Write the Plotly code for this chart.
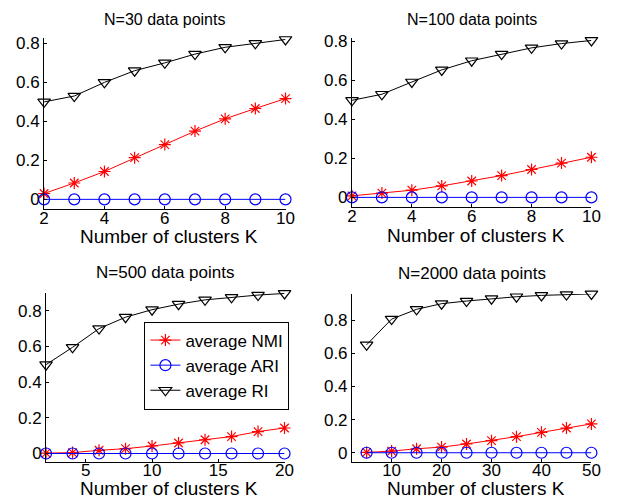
import plotly.graph_objects as go

W, H = 619, 501

# ---- data ----
k30 = [2, 3, 4, 5, 6, 7, 8, 9, 10]
nmi30 = [0.03, 0.084, 0.143, 0.214, 0.281, 0.35, 0.413, 0.466, 0.517]
ari30 = [0, 0, 0, 0, 0, 0, 0, 0, 0]
ri30 = [0.50, 0.53, 0.60, 0.66, 0.70, 0.745, 0.78, 0.80, 0.82]

k100 = [2, 3, 4, 5, 6, 7, 8, 9, 10]
nmi100 = [0.008, 0.022, 0.037, 0.059, 0.084, 0.112, 0.143, 0.176, 0.206]
ari100 = [0, 0, 0, 0, 0, 0, 0, 0, 0]
ri100 = [0.498, 0.529, 0.592, 0.654, 0.701, 0.735, 0.767, 0.789, 0.805]

k500 = [2, 4, 6, 8, 10, 12, 14, 16, 18, 20]
nmi500 = [0.002, 0.005, 0.018, 0.027, 0.042, 0.059, 0.077, 0.095, 0.123, 0.143]
ari500 = [0, 0, 0, 0, 0, 0, 0, 0, 0, 0]
ri500 = [0.498, 0.595, 0.70, 0.764, 0.806, 0.837, 0.861, 0.875, 0.888, 0.897]

k2000 = [5, 10, 15, 20, 25, 30, 35, 40, 45, 50]
nmi2000 = [0.002, 0.01, 0.024, 0.034, 0.053, 0.073, 0.097, 0.123, 0.149, 0.174]
ari2000 = [0, 0, 0, 0, 0, 0, 0, 0, 0, 0]
ri2000 = [0.651, 0.806, 0.865, 0.899, 0.915, 0.929, 0.941, 0.949, 0.954, 0.958]

titles = ["N=30 data points", "N=100 data points", "N=500 data points", "N=2000 data points"]
xlabel = "Number of clusters K"
series_names = ["average NMI", "average ARI", "average RI"]

panels = [
    (k30, nmi30, ari30, ri30),
    (k100, nmi100, ari100, ri100),
    (k500, nmi500, ari500, ri500),
    (k2000, nmi2000, ari2000, ri2000),
]

# pixel boxes (left, right, top, bottom)
boxes = [(40, 287, 33, 207), (355, 600, 33, 205), (42, 286, 292, 463), (355, 600, 293, 463)]
title_y = [15, 15, 271, 272]
xtitle_y = [235, 234, 490, 490]
title_size = [16, 16, 17, 17]
xranges = [[2, 10], [2, 10], [2, 20], [2.07, 50]]
yranges = [[-0.05, 0.83], [-0.05, 0.82], [-0.045, 0.90], [-0.053, 0.958]]
xticks = [[2, 4, 6, 8, 10], [2, 4, 6, 8, 10], [5, 10, 15, 20], [10, 20, 30, 40, 50]]
yticks = [0, 0.2, 0.4, 0.6, 0.8]
ytick_text = ["0", "0.2", "0.4", "0.6", "0.8"]

FONT = "Liberation Sans, Arial, Helvetica, sans-serif"
colors = ["#ff0000", "#0000ff", "#000000"]
symbols = ["asterisk-open", "circle-open", "triangle-down-open"]
sizes = [10, 11, 11]

fig = go.Figure()
layout = dict(width=W, height=H, margin=dict(l=0, r=0, t=0, b=0),
              paper_bgcolor="white", plot_bgcolor="white",
              font=dict(family=FONT, color="black"), showlegend=True)
annotations = []
for i, (ks, nmi, ari, ri) in enumerate(panels):
    ax = "" if i == 0 else str(i + 1)
    for j, vals in enumerate([nmi, ari, ri]):
        fig.add_trace(go.Scatter(
            x=ks, y=vals, mode="lines+markers", name=series_names[j],
            xaxis="x" + ax, yaxis="y" + ax,
            line=dict(color=colors[j], width=1),
            marker=dict(symbol=symbols[j], size=sizes[j], color=colors[j],
                        line=dict(color=colors[j], width=1.2)),
            showlegend=(i == 2), cliponaxis=False))
    l, r, t, b = boxes[i]
    layout["xaxis" + ax] = dict(
        domain=[l / W, r / W], range=xranges[i], anchor="y" + ax,
        tickvals=xticks[i], ticks="inside", ticklen=3, tickcolor="black",
        ticklabelstandoff=-7,
        showline=True, linecolor="black", linewidth=1, mirror=False,
        showgrid=False, zeroline=False,
        tickfont=dict(size=17, family=FONT, color="black"))
    layout["yaxis" + ax] = dict(
        domain=[(H - b) / H, (H - t) / H], range=yranges[i], anchor="x" + ax,
        tickvals=yticks, ticktext=ytick_text, ticks="inside", ticklen=3, tickcolor="black",
        showline=True, linecolor="black", linewidth=1, mirror=False,
        showgrid=False, zeroline=False,
        tickfont=dict(size=17, family=FONT, color="black"))
    annotations.append(dict(text=titles[i], xref="paper", yref="paper",
                            x=(l + r) / 2 / W, y=(H - title_y[i]) / H,
                            xanchor="center", yanchor="middle",
                            showarrow=False, font=dict(size=title_size[i], family=FONT, color="black")))
    annotations.append(dict(text=xlabel, xref="paper", yref="paper",
                            x=(l + r) / 2 / W + 4 / W, y=(H - xtitle_y[i]) / H,
                            xanchor="center", yanchor="middle",
                            showarrow=False, font=dict(size=19, family=FONT, color="black")))

layout["annotations"] = annotations
layout["legend"] = dict(x=291 / W, y=(H - 321) / H, xanchor="right", yanchor="top",
                        bordercolor="black", borderwidth=1, bgcolor="white",
                        font=dict(size=17, family=FONT, color="black"),
                        tracegroupgap=0, itemwidth=30)
fig.update_layout(**layout)
fig.write_html("out.html")
